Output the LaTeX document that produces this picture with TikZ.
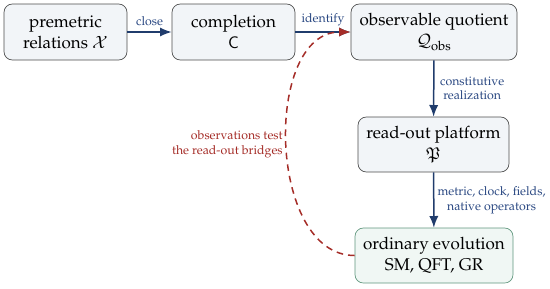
\documentclass[tikz,border=0pt]{standalone}
\usepackage[T1]{fontenc}
\usepackage{amsmath}
\usepackage{amssymb}
\usepackage{mathpazo}
\usepackage{xcolor}
\usetikzlibrary{arrows.meta,positioning}

\definecolor{arrowblue}{RGB}{32,60,108}
\definecolor{labelblue}{RGB}{42,72,130}
\definecolor{testred}{RGB}{165,45,40}
\definecolor{boxfill}{RGB}{242,245,248}
\definecolor{greenfill}{RGB}{240,247,244}
\definecolor{greenedge}{RGB}{95,150,125}

\newcommand{\labfont}{\fontsize{7.4}{8.8}\selectfont}
\newcommand{\boxfont}{\fontsize{10.2}{12.8}\selectfont}

\begin{document}
\begin{tikzpicture}[
    x=0.6pt, y=-0.6pt,
    box/.style={draw=black!70, fill=boxfill, rounded corners=5pt, minimum width=73.8pt, minimum height=33.6pt, align=center, inner sep=2pt, font=\boxfont},
    flow/.style={-{Latex[length=7pt,width=5.5pt]}, draw=arrowblue, line width=0.9pt},
    lab/.style={font=\labfont, text=labelblue, align=center},
    >=Latex
]
\useasboundingbox (0,0) rectangle (550,288);

% top row
\node[box] (premetric) at (65.5,32) {premetric\\relations $\mathcal{X}$};
\node[box] (completion) at (233.5,32) {completion\\$\mathsf{C}$};
\node[box, minimum width=99.6pt] (quotient) at (434,32) {observable quotient\\$\mathcal{Q}_{\mathrm{obs}}$};

% right column
\node[box, minimum width=90.6pt, minimum height=33pt] (platform) at (433.5,144.5) {read-out platform\\$\mathfrak{P}$};
\node[box, draw=greenedge, fill=greenfill, minimum width=94.8pt, minimum height=33pt] (evolution) at (434,255.5) {ordinary evolution\\SM, QFT, GR};

\draw[flow] (premetric) -- (completion) node[midway, above, lab] {close};
\draw[flow] (completion) -- (quotient) node[midway, above, lab] {identify};
\draw[flow] (quotient) -- (platform) node[midway, right, lab] {constitutive\\realization};
\draw[flow] (platform) -- (evolution) node[midway, right, lab, xshift=-1.5pt] {metric, clock, fields,\\native operators};

% feedback
\draw[-{Latex[length=7pt,width=5.5pt]}, testred, dashed, line width=0.9pt, dash pattern=on 4pt off 3pt]
    (evolution.west) to[out=180, in=180] (quotient.west);
\node[font=\labfont, text=testred, align=right, anchor=east, inner sep=0pt] (bridges) at (283,144) {observations test\\the read-out bridges};

\end{tikzpicture}
\end{document}
